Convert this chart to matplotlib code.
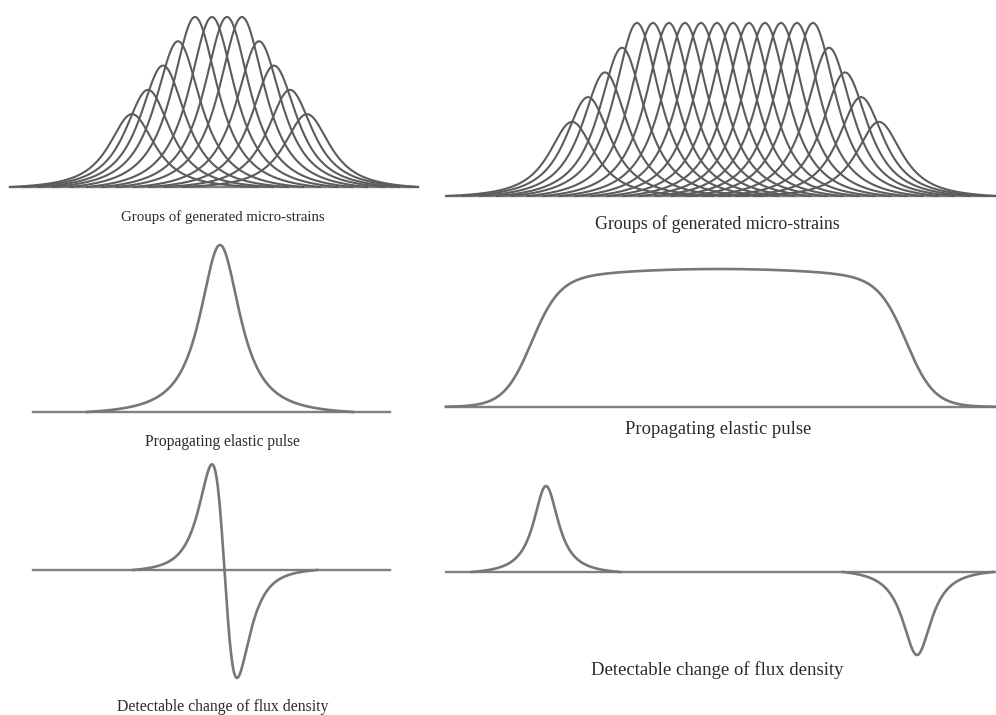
import numpy as np
import matplotlib.pyplot as plt

plt.rcParams["font.family"] = ["Liberation Serif", "DejaVu Serif"]

W, H = 996, 715

# groups of generated micro-strains: peak position along the panel and height level (of 7)
strain_a_x = [122, 138, 153, 168, 185, 202, 217, 232, 249, 264, 280, 297]
strain_a_lvl = [3, 4, 5, 6, 7, 7, 7, 7, 6, 5, 4, 3]
strain_b_x = [126, 142, 159, 176, 191, 207, 223, 239, 255, 271,
              287, 303, 319, 335, 351, 367, 383, 399, 415, 433]
strain_b_lvl = [3, 4, 5, 6, 7, 7, 7, 7, 7, 7, 7, 7, 7, 7, 7, 7, 6, 5, 4, 3]
strain_w = 31

# propagating elastic pulse (left): centre, width, drawn range
pulse_c = 187
pulse_w = 27
pulse_span = [54, 320]
# propagating elastic pulse (right): rise, fall, edge softness, dome
plateau_edges = [85, 461]
plateau_soft = 14
plateau_dome = 0.08

# detectable change of flux density (left): zero crossing, width, lobe amplitudes, range
flux_e_c = 191.5
flux_e_w = 25
flux_e_amp = [1.0, 1.02]
flux_e_span = [100, 284]
# detectable change of flux density (right): two separated pulses
flux_f_c = [100, 471]
flux_f_amp = [1.0, -0.965]
flux_f_w = [16, 18.7]
flux_f_span = [[26, 174], [397, 547]]

titles = ["Groups of generated micro-strains", "Groups of generated micro-strains",
          "Propagating elastic pulse", "Propagating elastic pulse",
          "Detectable change of flux density", "Detectable change of flux density"]

strain_col = "#5c5c5c"
curve_col = "#777777"
base_col = "#808080"


def bump(x, c, w, m):
    return (1 + ((x - c) / w) ** 2) ** -m


def grounded(x, y):
    # pull the drawn ends of a curve down onto the baseline
    return y - (y[0] + (y[-1] - y[0]) * (x - x[0]) / (x[-1] - x[0]))


def panel(x0, x1, ytop, ybot, ylim):
    ax = fig.add_axes([x0 / W, 1 - ybot / H, (x1 - x0) / W, (ybot - ytop) / H])
    ax.set_xlim(0, x1 - x0)
    ax.set_ylim(*ylim)
    ax.axis("off")
    ax.axhline(0, color=base_col, lw=1.7, clip_on=False, zorder=1)
    return ax


def strains(ax, xs, lvls, xmax):
    for c, lv in zip(xs, lvls):
        x = np.linspace(max(c - 125, 0), min(c + 125, xmax), 500)
        y = grounded(x, bump(x, c, strain_w, 1.2))
        ax.plot(x, lv * y / y.max(), color=strain_col, lw=1.5, clip_on=False)


fig = plt.figure(figsize=(W / 100, H / 100), dpi=100)

# top left
ax = panel(10, 418, 17, 187, (0, 7))
strains(ax, strain_a_x, strain_a_lvl, 408)

# top right
ax = panel(446, 996, 23, 196, (0, 7))
strains(ax, strain_b_x, strain_b_lvl, 550)

# middle left
ax = panel(33, 390, 245, 412, (0, 1))
x = np.linspace(*pulse_span, 600)
y = grounded(x, bump(x, pulse_c, pulse_w, 1.2))
ax.plot(x, y / y.max(), color=curve_col, lw=1.9, clip_on=False)

# middle right
ax = panel(446, 996, 269, 407, (0, 1))
x = np.linspace(0, 550, 800)
rise = 1 / (1 + np.exp(-(x - plateau_edges[0]) / plateau_soft))
fall = 1 / (1 + np.exp((x - plateau_edges[1]) / plateau_soft))
centre = sum(plateau_edges) / 2
half = (plateau_edges[1] - plateau_edges[0]) / 2
dome = 1 - plateau_dome * ((x - centre) / half) ** 2
ax.plot(x, rise * fall * dome, color=curve_col, lw=1.9, clip_on=False)

# bottom left
ax = panel(33, 390, 464, 676, (-1, 1))
x = np.linspace(*flux_e_span, 600)
u = (x - flux_e_c) / flux_e_w
d = -u * (1 + u ** 2) ** -2.5
d = grounded(x, d) / d.max()
d = np.where(d > 0, d * flux_e_amp[0], d * flux_e_amp[1])
ax.plot(x, d, color=curve_col, lw=1.9, clip_on=False)

# bottom right
ax = panel(446, 996, 486, 658, (-1, 1))
for c, a, w, sp in zip(flux_f_c, flux_f_amp, flux_f_w, flux_f_span):
    x = np.linspace(sp[0], sp[1], 400)
    y = grounded(x, bump(x, c, w, 1.1))
    ax.plot(x, a * y / y.max(), color=curve_col, lw=1.9, clip_on=False)

# captions
cap_pos = [(223, 217, 10.7), (717, 224, 12.9), (222, 442, 11.2),
           (718, 430, 13.4), (223, 707, 11.3), (717, 670, 13.5)]
for t, (cx, cy, fs) in zip(titles, cap_pos):
    fig.text(cx / W, 1 - cy / H, t, ha="center", va="center", fontsize=fs, color="#2a2a2a")

fig.savefig("out.png", dpi=100)
